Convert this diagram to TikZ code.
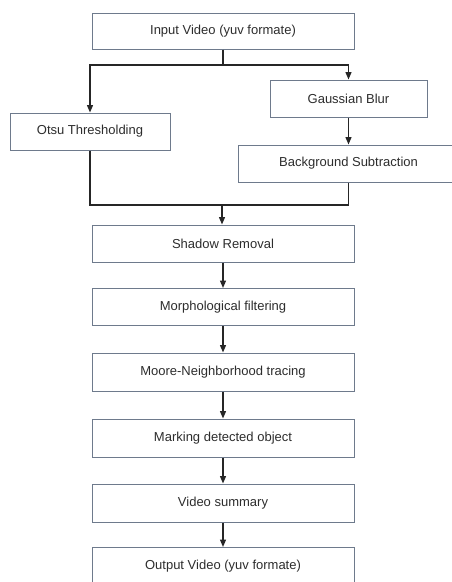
\documentclass[tikz,border=0pt]{standalone}
\usepackage{fontspec}
\setmainfont{Liberation Sans}
\usetikzlibrary{arrows.meta}
\definecolor{boxline}{RGB}{110,122,140}
\definecolor{txt}{RGB}{45,45,45}
\begin{document}
\begin{tikzpicture}[x=1pt,y=-1pt,
  box/.style={draw=boxline,line width=1pt,fill=white,inner sep=0pt,text=txt,font=\fontsize{13}{15}\selectfont},
  conn/.style={draw=black!85,line width=1.3pt},
  arr/.style={conn,-{Triangle[length=7.5pt,width=6pt]}}]
\useasboundingbox (0,0) rectangle (452,582);
\clip (0,0) rectangle (452,582);
\node[box,minimum width=262pt,minimum height=36pt] (in) at (223,31) {Input Video (yuv formate)};
\node[box,minimum width=160pt,minimum height=37pt] (otsu) at (90,131.5) {Otsu Thresholding};
\node[box,minimum width=157pt,minimum height=37pt] (gb) at (348.5,98.5) {Gaussian Blur};
\node[box,minimum width=230pt,minimum height=37pt,anchor=west] (bs) at (237.5,163.5) {\hspace*{-9pt}Background Subtraction};
\node[box,minimum width=262pt,minimum height=37pt] (sr) at (223,243.5) {Shadow Removal};
\node[box,minimum width=262pt,minimum height=37pt] (mf) at (223,307) {Morphological filtering};
\node[box,minimum width=262pt,minimum height=38pt] (mn) at (223,372) {Moore-Neighborhood tracing};
\node[box,minimum width=262pt,minimum height=38pt] (md) at (223,438) {Marking detected object};
\node[box,minimum width=262pt,minimum height=38pt] (vs) at (223,503) {Video summary};
\node[box,minimum width=262pt,minimum height=38pt] (out) at (223,566.5) {Output Video (yuv formate)};
\coordinate (split) at (223,65);
\coordinate (join) at (222,205);
\draw[conn] (in.south) -- (split);
\draw[arr] (split) -| (otsu.north);
\draw[arr] (split) -| (gb.north);
\draw[arr] (gb.south) -- (gb.south |- bs.north);
\draw[conn] (otsu.south) |- (join);
\draw[conn] (gb.south |- bs.south) |- (join);
\draw[arr] (join) -- (join |- sr.north);
\draw[arr] (sr) -- (mf);
\draw[arr] (mf) -- (mn);
\draw[arr] (mn) -- (md);
\draw[arr] (md) -- (vs);
\draw[arr] (vs) -- (out);
\end{tikzpicture}
\end{document}
